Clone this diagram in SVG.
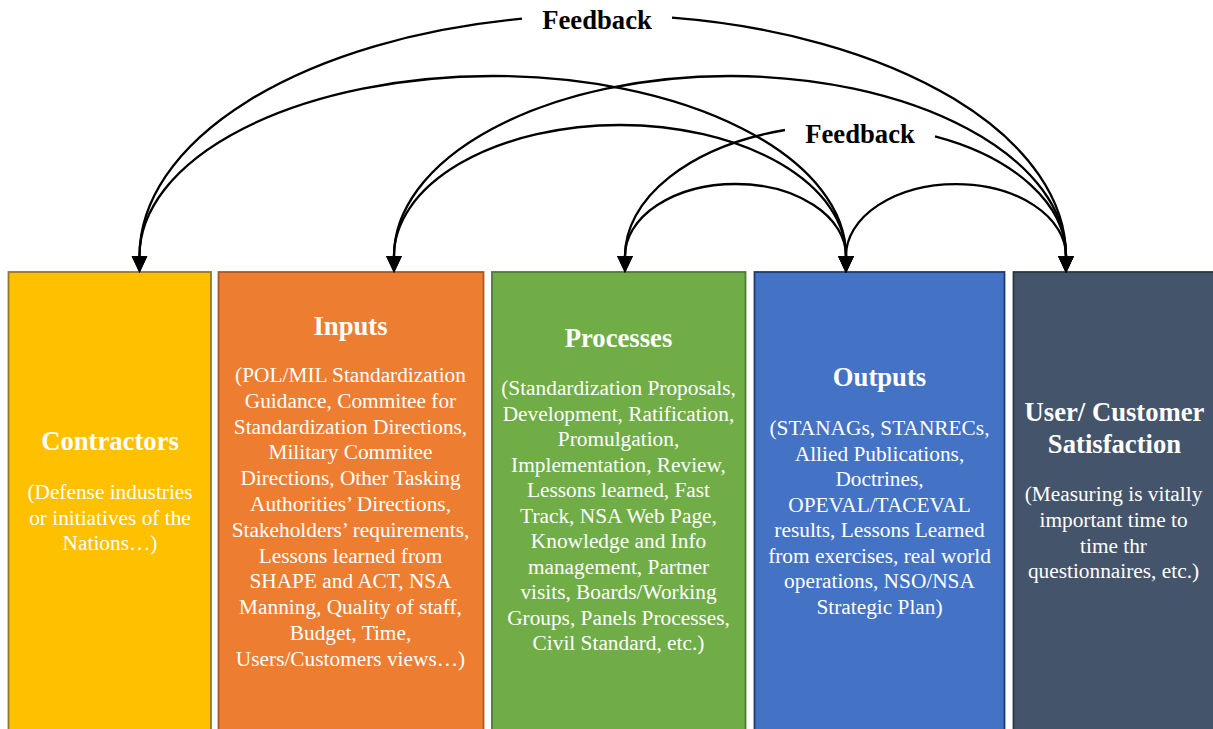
<svg xmlns="http://www.w3.org/2000/svg" width="1213" height="729" viewBox="0 0 1213 729">
  <style>
    .box { stroke-width: 1.8; }
    .title { font-family: "Liberation Serif", "Times New Roman", serif; font-weight: bold; font-size: 26.67px; fill: #ffffff; text-anchor: middle; }
    .body { font-family: "Liberation Serif", "Times New Roman", serif; font-size: 21.33px; fill: #ffffff; text-anchor: middle; }
    .arc { fill: none; stroke: #000000; stroke-width: 2.3; }
    .label { font-family: "Liberation Serif", "Times New Roman", serif; font-weight: bold; font-size: 26.67px; fill: #000000; text-anchor: middle; }
  </style>
  <defs>
    <marker id="head" markerUnits="userSpaceOnUse" viewBox="0 0 17 16" refX="0" refY="8" markerWidth="17" markerHeight="16" orient="auto-start-reverse">
      <path d="M0,0 L17,8 L0,16 z" fill="#000000"/>
    </marker>
  </defs>

  <rect width="1213" height="729" fill="#ffffff"/>

  <!-- column nodes -->
  <g id="contractors">
    <rect class="box" x="8.5" y="272" width="202.5" height="470" fill="#FFC000" stroke="#94782a"/>
    <text class="title" x="110" y="449.5">Contractors</text>
    <text class="body" x="110" y="499">(Defense industries</text>
    <text class="body" x="110" y="524.5">or initiatives of the</text>
    <text class="body" x="110" y="550">Nations…)</text>
  </g>

  <g id="inputs">
    <rect class="box" x="218.5" y="272" width="265" height="470" fill="#ED7D31" stroke="#A85A24"/>
    <text class="title" x="350.5" y="334.5">Inputs</text>
    <text class="body" x="350.5" y="382">(POL/MIL Standardization</text>
    <text class="body" x="350.5" y="407.8">Guidance, Commitee for</text>
    <text class="body" x="350.5" y="433.6">Standardization Directions,</text>
    <text class="body" x="350.5" y="459.4">Military Commitee</text>
    <text class="body" x="350.5" y="485.2">Directions, Other Tasking</text>
    <text class="body" x="350.5" y="511">Authorities’ Directions,</text>
    <text class="body" x="350.5" y="536.8">Stakeholders’ requirements,</text>
    <text class="body" x="350.5" y="562.6">Lessons learned from</text>
    <text class="body" x="350.5" y="588.4">SHAPE and ACT, NSA</text>
    <text class="body" x="350.5" y="614.2">Manning, Quality of staff,</text>
    <text class="body" x="350.5" y="640">Budget, Time,</text>
    <text class="body" x="350.5" y="665.8">Users/Customers views…)</text>
  </g>

  <g id="processes">
    <rect class="box" x="492" y="272" width="253.5" height="470" fill="#70AD47" stroke="#4F7A32"/>
    <text class="title" x="618.5" y="346.5">Processes</text>
    <text class="body" x="618.5" y="395">(Standardization Proposals,</text>
    <text class="body" x="618.5" y="420.5">Development, Ratification,</text>
    <text class="body" x="618.5" y="446">Promulgation,</text>
    <text class="body" x="618.5" y="471.5">Implementation, Review,</text>
    <text class="body" x="618.5" y="497">Lessons learned, Fast</text>
    <text class="body" x="618.5" y="522.5">Track, NSA Web Page,</text>
    <text class="body" x="618.5" y="548">Knowledge and Info</text>
    <text class="body" x="618.5" y="573.5">management, Partner</text>
    <text class="body" x="618.5" y="599">visits, Boards/Working</text>
    <text class="body" x="618.5" y="624.5">Groups, Panels Processes,</text>
    <text class="body" x="618.5" y="650">Civil Standard, etc.)</text>
  </g>

  <g id="outputs">
    <rect class="box" x="754.5" y="272" width="250" height="470" fill="#4472C4" stroke="#1F3A6E"/>
    <text class="title" x="879.5" y="386">Outputs</text>
    <text class="body" x="879.5" y="435">(STANAGs, STANRECs,</text>
    <text class="body" x="879.5" y="460.5">Allied Publications,</text>
    <text class="body" x="879.5" y="486">Doctrines,</text>
    <text class="body" x="879.5" y="511.5">OPEVAL/TACEVAL</text>
    <text class="body" x="879.5" y="537">results, Lessons Learned</text>
    <text class="body" x="879.5" y="562.5">from exercises, real world</text>
    <text class="body" x="879.5" y="588">operations, NSO/NSA</text>
    <text class="body" x="879.5" y="613.5">Strategic Plan)</text>
  </g>

  <g id="satisfaction">
    <rect class="box" x="1013.5" y="272" width="204" height="470" fill="#44546A" stroke="#2B3545"/>
    <text class="title" x="1114.5" y="420.5">User/ Customer</text>
    <text class="title" x="1114.5" y="452.5">Satisfaction</text>
    <text class="body" x="1113.5" y="501">(Measuring is vitally</text>
    <text class="body" x="1113.5" y="526.8">important time to</text>
    <text class="body" x="1113.5" y="552.6">time thr</text>
    <text class="body" x="1113.5" y="578.4">questionnaires, etc.)</text>
  </g>

  <!-- feedback connectors -->
  <g id="connectors">
    <!-- outer loop, split around its label -->
    <path class="arc" d="M139.5,256 A463.25,241 0 0 1 522,18.7" marker-start="url(#head)"/>
    <path class="arc" d="M672,17.7 A463.25,241 0 0 1 1066,256" marker-end="url(#head)"/>
    <text class="label" x="597" y="28.5">Feedback</text>

    <!-- outputs back to contractors -->
    <path class="arc" d="M139.5,256 A353.25,180 0 0 1 846,256" marker-start="url(#head)" marker-end="url(#head)"/>
    <!-- satisfaction back to inputs -->
    <path class="arc" d="M394,256 A336,180 0 0 1 1066,256" marker-start="url(#head)" marker-end="url(#head)"/>
    <!-- outputs back to inputs -->
    <path class="arc" d="M394,256 A226,131 0 0 1 846,256" marker-start="url(#head)" marker-end="url(#head)"/>

    <!-- satisfaction back to processes, split around its label -->
    <path class="arc" d="M625,256 A220.5,131 0 0 1 785,130" marker-start="url(#head)"/>
    <path class="arc" d="M935,136.3 A220.5,131 0 0 1 1066,256" marker-end="url(#head)"/>
    <text class="label" x="860" y="143">Feedback</text>

    <!-- short loops -->
    <path class="arc" d="M625,256 A110.5,72 0 0 1 846,256" marker-start="url(#head)" marker-end="url(#head)"/>
    <path class="arc" d="M846,256 A110,72 0 0 1 1066,256" marker-start="url(#head)" marker-end="url(#head)"/>
  </g>
</svg>
